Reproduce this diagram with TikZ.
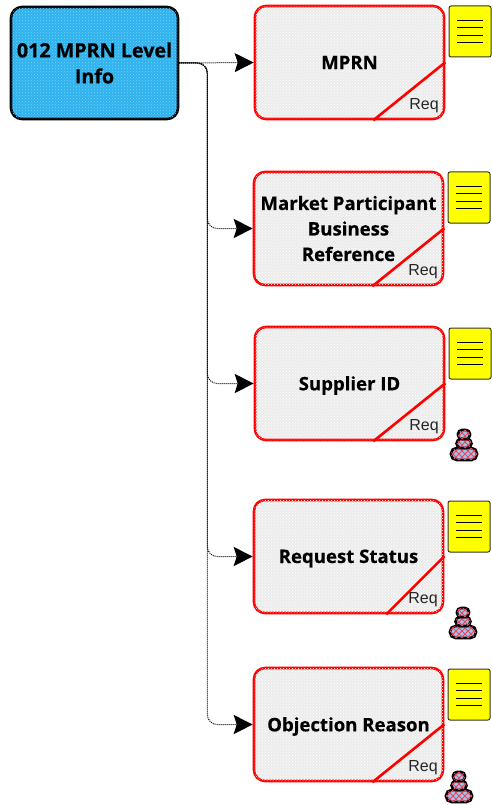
\documentclass[tikz,border=0pt]{standalone}
\usepackage{fontspec}
\setmainfont{Liberation Sans}
\newfontfamily\labelfont[BoldFeatures={FakeBold=0.5}]{Open Sans}
\usetikzlibrary{calc,arrows.meta,patterns}
\definecolor{skyfill}{RGB}{45,178,238}
\definecolor{skydot}{RGB}{120,210,250}
\definecolor{boxgrey}{RGB}{236,236,236}
\definecolor{pureyellow}{RGB}{255,255,0}
\definecolor{purered}{RGB}{255,0,0}
\definecolor{stackblue}{RGB}{160,195,240}
\definecolor{stackred}{RGB}{235,70,90}
\newcommand{\lowered}[1]{\raisebox{-2pt}[\height][\depth]{#1}}
\pgfdeclarepatternformonly{widecross}{\pgfqpoint{-1pt}{-1pt}}{\pgfqpoint{7pt}{7pt}}{\pgfqpoint{6pt}{6pt}}{
  \pgfsetlinewidth{1pt}
  \pgfpathmoveto{\pgfqpoint{0pt}{0pt}}\pgfpathlineto{\pgfqpoint{6pt}{6pt}}
  \pgfpathmoveto{\pgfqpoint{0pt}{6pt}}\pgfpathlineto{\pgfqpoint{6pt}{0pt}}
  \pgfusepath{stroke}}
\tikzset{
  x=1pt,y=-1pt,
  mainbox/.style={draw=black,line width=2.6pt,rounded corners=11pt,fill=skyfill,minimum width=167pt,minimum height=112pt,align=center,font=\labelfont\bfseries\fontsize{19.7}{26}\selectfont,inner sep=0pt,postaction={pattern=crosshatch dots,pattern color=skydot}},
  reqbox/.style={draw=purered,line width=2.6pt,rounded corners=11pt,fill=boxgrey,minimum width=189pt,minimum height=113pt,align=center,font=\labelfont\bfseries\fontsize{18.6}{25.5}\selectfont,inner sep=0pt,postaction={pattern=crosshatch dots,pattern color=white}},
  notebox/.style={draw=black!80,line width=1pt,rounded corners=2pt,fill=pureyellow,minimum width=42pt,minimum height=51pt,inner sep=0pt},
  noteline/.style={draw=black,line width=1pt},
  reqlabel/.style={font=\fontsize{16}{18}\selectfont,text=black!85,inner sep=0pt},
  cut/.style={draw=purered,line width=2.6pt},
  link/.style={draw=black,densely dotted,line width=1pt,rounded corners=10pt,-{Stealth[length=19pt,width=19pt,inset=3pt]}},
  stackpart/.style={draw=black,line width=2.6pt,fill=stackblue,postaction={pattern=widecross,pattern color=stackred}},
  pics/stack/.style={code={
    \draw[stackpart,rounded corners=5.5pt] (-13,3) rectangle (13,15);
    \draw[stackpart,rounded corners=4.5pt] (-7.5,-6) rectangle (7.5,3);
    \draw[stackpart,rounded corners=4pt] (-6,-15) rectangle (6,-6);
  }}
}
\begin{document}
\begin{tikzpicture}
\useasboundingbox (0,0) rectangle (491,805);
\node[mainbox] (m) at (94.5,63) {012 MPRN Level\\Info};
\node[reqbox] (b1) at (349.5,62.5) {MPRN};
\node[reqbox] (b2) at (348.5,228.5) {Market Participant\\Business\\Reference};
\node[reqbox] (b3) at (349.5,383.5) {\lowered{Supplier ID}};
\node[reqbox] (b4) at (348.5,556.5) {\lowered{Request Status}};
\node[reqbox] (b5) at (348.5,724.5) {\lowered{Objection Reason}};
\draw[cut] ($(b1.south east)+(-72,0)$) -- ($(b1.south east)+(0,-58)$);
\draw[cut] ($(b2.south east)+(-72,0)$) -- ($(b2.south east)+(0,-58)$);
\draw[cut] ($(b3.south east)+(-72,0)$) -- ($(b3.south east)+(0,-58)$);
\draw[cut] ($(b4.south east)+(-58,0)$) -- ($(b4.south east)+(0,-58)$);
\draw[cut] ($(b5.south east)+(-72,0)$) -- ($(b5.south east)+(0,-58)$);
\node[reqlabel] (r1) at (424,105.5) {Req};
\node[reqlabel] (r2) at (423,271.5) {Req};
\node[reqlabel] (r3) at (424,426.5) {Req};
\node[reqlabel] (r4) at (423,599.5) {Req};
\node[reqlabel] (r5) at (423,767.5) {Req};
\foreach \n/\cx/\cy in {n1/470/31.5,n2/469/197.5,n3/470/353.5,n4/469/526.5,n5/469/694.5}{
  \node[notebox] (\n) at (\cx,\cy) {};
  \foreach \d in {-11,-3.7,3.7,11}{
    \draw[noteline] ($(\n.center)+(-13,\d)$) -- ($(\n.center)+(13,\d)$);
  }
}
\coordinate (elbow) at ($(m.east)+(28,0)$);
\draw[link] (m.east) -- (b1.west);
\draw[link] (m.east) -| (elbow |- b2.west) -- (b2.west);
\draw[link] (m.east) -| (elbow |- b3.west) -- (b3.west);
\draw[link] (m.east) -| (elbow |- b4.west) -- (b4.west);
\draw[link] (m.east) -| (elbow |- b5.west) -- (b5.west);
\pic at (464,445) {stack};
\pic at (463,623) {stack};
\pic at (459,787) {stack};
\end{tikzpicture}
\end{document}
